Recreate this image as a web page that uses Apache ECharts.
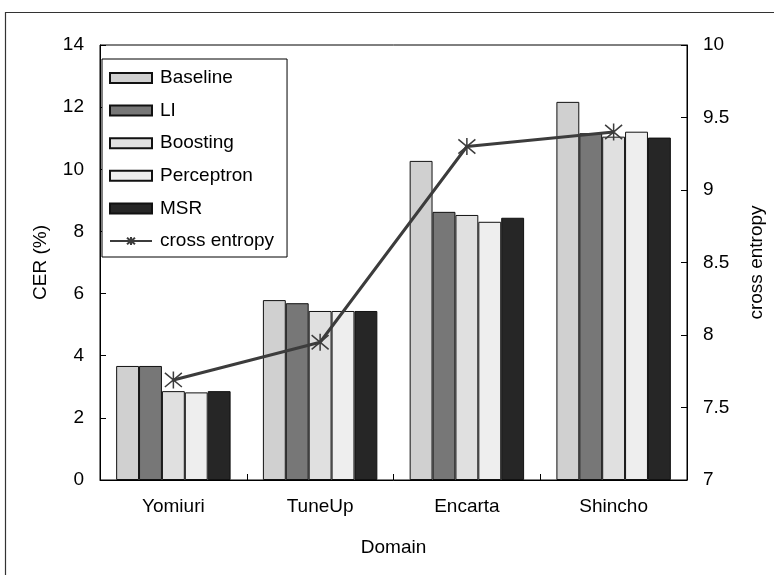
<!DOCTYPE html>
<html>
<head>
<meta charset="utf-8">
<script src="https://cdn.jsdelivr.net/npm/echarts@6/dist/echarts.min.js"></script>
<style>
  html, body { margin: 0; padding: 0; background: #fff; }
  #chart { width: 774px; height: 575px; }
</style>
</head>
<body>
<div id="chart"></div>
<script>
// Character error rate per domain for each method, plus cross entropy on a second axis
const categories = ['Yomiuri', 'TuneUp', 'Encarta', 'Shincho'];
const baseline = [3.67, 5.79, 10.27, 12.17];
const li = [3.67, 5.69, 8.63, 11.16];
const boosting = [2.86, 5.44, 8.53, 11.05];
const perceptron = [2.82, 5.44, 8.31, 11.21];
const msr = [2.86, 5.44, 8.44, 11.02];
const crossEntropy = [7.69, 7.95, 9.30, 9.40];

const leftTicks = { min: 0, max: 14, interval: 2 };
const rightTicks = { min: 7, max: 10, interval: 0.5 };

const FONT = '"Liberation Sans", Arial, sans-serif';
const FS = 19;
// asterisk marker: an X with a vertical stroke
const STAR = 'path://M0,0L10,10M10,0L0,10M5,-1L5,11';

function barSeries(name, data, fill) {
  return {
    name: name,
    type: 'bar',
    data: data,
    yAxisIndex: 0,
    barGap: '0%',
    barCategoryGap: '22%',
    itemStyle: { color: fill, borderColor: '#111', borderWidth: 1 }
  };
}

const chart = echarts.init(document.getElementById('chart'), null, { renderer: 'canvas' });

chart.setOption({
  animation: false,
  backgroundColor: '#fff',
  textStyle: { fontFamily: FONT, color: '#000' },
  graphic: [{
    type: 'rect',
    shape: { x: 5.5, y: 12.5, width: 800, height: 600 },
    style: { fill: 'none', stroke: '#333', lineWidth: 1.2 },
    silent: true
  }],
  grid: {
    left: 100, right: 87, top: 45, bottom: 95,
    show: true, borderColor: '#000', borderWidth: 1, backgroundColor: 'transparent'
  },
  legend: {
    orient: 'vertical',
    left: 102, top: 59,
    padding: [9, 13, 6, 7],
    itemGap: 12.6,
    itemWidth: 42, itemHeight: 10,
    backgroundColor: '#fff',
    borderColor: '#000', borderWidth: 1,
    textStyle: { fontFamily: FONT, fontSize: FS, color: '#000', lineHeight: 20, padding: [0, 0, 0, 3] },
    data: [
      { name: 'Baseline', icon: 'rect' },
      { name: 'LI', icon: 'rect' },
      { name: 'Boosting', icon: 'rect' },
      { name: 'Perceptron', icon: 'rect' },
      { name: 'MSR', icon: 'rect' },
      { name: 'cross entropy' }
    ]
  },
  xAxis: {
    type: 'category',
    data: categories,
    name: 'Domain',
    nameLocation: 'middle',
    nameGap: 58,
    nameTextStyle: { fontFamily: FONT, fontSize: FS, color: '#000' },
    axisLine: { lineStyle: { color: '#000', width: 1 } },
    axisTick: { show: true, inside: true, length: 6, alignWithLabel: false, lineStyle: { color: '#000' } },
    axisLabel: { fontFamily: FONT, fontSize: FS, color: '#000', margin: 17 }
  },
  yAxis: [{
    type: 'value',
    min: leftTicks.min, max: leftTicks.max, interval: leftTicks.interval,
    name: 'CER (%)',
    nameLocation: 'middle',
    nameGap: 50,
    nameTextStyle: { fontFamily: FONT, fontSize: FS, color: '#000' },
    axisLine: { show: true, lineStyle: { color: '#000', width: 1 } },
    axisTick: { show: true, inside: true, length: 6, lineStyle: { color: '#000' } },
    axisLabel: { fontFamily: FONT, fontSize: FS, color: '#000', margin: 16 },
    splitLine: { show: false }
  }, {
    type: 'value',
    position: 'right',
    min: rightTicks.min, max: rightTicks.max, interval: rightTicks.interval,
    name: 'cross entropy',
    nameLocation: 'middle',
    nameGap: 60,
    nameTextStyle: { fontFamily: FONT, fontSize: FS, color: '#000' },
    axisLine: { show: true, lineStyle: { color: '#000', width: 1 } },
    axisTick: { show: true, inside: true, length: 6, lineStyle: { color: '#000' } },
    axisLabel: { fontFamily: FONT, fontSize: FS, color: '#000', margin: 16 },
    splitLine: { show: false }
  }],
  series: [
    barSeries('Baseline', baseline, '#d0d0d0'),
    barSeries('LI', li, '#777777'),
    barSeries('Boosting', boosting, '#e0e0e0'),
    barSeries('Perceptron', perceptron, '#eeeeee'),
    barSeries('MSR', msr, '#262626'),
    {
      name: 'cross entropy',
      type: 'line',
      yAxisIndex: 1,
      data: crossEntropy,
      symbol: STAR,
      symbolSize: 17,
      showSymbol: true,
      lineStyle: { color: '#3c3c3c', width: 3 },
      itemStyle: { color: '#3c3c3c', borderColor: '#3c3c3c', borderWidth: 1.5 },
      z: 5
    }
  ]
});
</script>
</body>
</html>
